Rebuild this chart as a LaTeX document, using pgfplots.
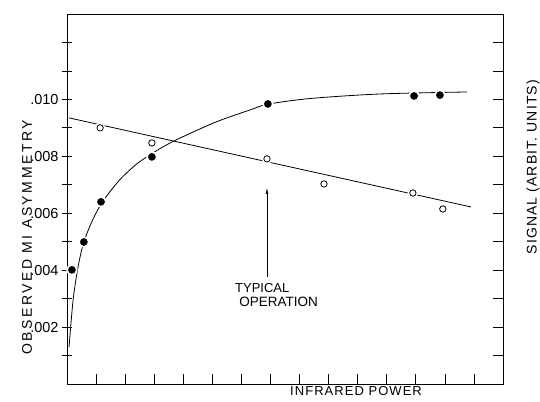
\documentclass[border=0pt]{standalone}
\usepackage{pgfplots}
\pgfplotsset{compat=1.18}
\usetikzlibrary{arrows.meta}
\usepackage{fontspec}
\setmainfont{Liberation Sans}
\newfontfamily\lspA[LetterSpace=18]{Liberation Sans}
\newfontfamily\lspB[LetterSpace=8]{Liberation Sans}
\begin{document}
\begin{tikzpicture}
\pgfplotsset{every axis/.append style={scale only axis, width=436bp, height=370bp,
  xmin=0, xmax=15, clip=false,
  axis line style={line width=0.8bp},
  every tick/.style={black, line width=0.7bp},
  major tick length=10bp, minor tick length=10bp,
  /pgf/number format/assume math mode=true}}
\begin{axis}[
  ymin=0, ymax=0.013, scaled y ticks=false,
  xtick={1,...,14}, xticklabels={}, xtick align=inside, xtick pos=bottom,
  ytick={0.002,0.004,0.006,0.008,0.010},
  yticklabels={.002,.004,.006,.008,.010},
  minor ytick={0.001,0.003,0.005,0.007,0.009,0.011,0.012},
  ytick align=center, ytick pos=left,
  yticklabel style={font=\fontsize{14.5bp}{16bp}\selectfont},
]
% fitted curve (asymmetry)
\addplot[black, line width=0.8bp, smooth] coordinates {
 (0.07,0.00130) (0.21,0.00295) (0.38,0.00411) (0.58,0.00499) (0.89,0.00578)
 (1.24,0.00643) (1.82,0.00718) (2.41,0.00774) (2.96,0.00812) (3.44,0.00841)
 (3.99,0.00869) (5.16,0.00922) (6.30,0.00963) (6.91,0.00983) (8.36,0.01003)
 (10.77,0.01019) (13.76,0.01026)};
\addplot[only marks, mark=*, mark size=5.5bp, white, mark options={draw=white, fill=white}] coordinates {
 (0.17,0.00401) (0.58,0.00499) (1.17,0.00640) (2.92,0.00798) (6.91,0.00984) (11.94,0.01012) (12.83,0.01015)};
\addplot[only marks, mark=*, mark size=3.6bp, black] coordinates {
 (0.17,0.00401) (0.58,0.00499) (1.17,0.00640) (2.92,0.00798) (6.91,0.00984) (11.94,0.01012) (12.83,0.01015)};
% annotation
\draw[line width=0.7bp, -{Latex[length=6bp,width=3bp]}] (axis cs:6.88,0.00376) -- (axis cs:6.88,0.00689);
\node[anchor=west, font=\fontsize{13bp}{15bp}\selectfont, inner sep=0pt] at (axis cs:5.78,0.003373) {TYPICAL};
\node[anchor=west, font=\fontsize{13.5bp}{15bp}\selectfont, inner sep=0pt] at (axis cs:5.92,0.00288) {OPERATION};
% labels
\node[rotate=90, font=\lspA\fontsize{14bp}{16bp}\selectfont] at (rel axis cs:-0.0917,0.396) {OBSERVED MI ASYMMETRY};
\node[rotate=90, font=\lspB\fontsize{14bp}{16bp}\selectfont] at (rel axis cs:1.069,0.586) {SIGNAL (ARBIT. UNITS)};
\node[font=\lspB\fontsize{13bp}{15bp}\selectfont] at (rel axis cs:0.663,-0.019) {INFRARED POWER};
\end{axis}
\begin{axis}[
  ymin=0, ymax=13,
  axis x line=none, axis y line*=right, y axis line style={-},
  ytick={1,...,12}, yticklabels={}, ytick align=inside,
]
\addplot[black, line width=0.8bp] coordinates {(0.07,9.35) (13.9,6.22)};
\addplot[only marks, mark=*, mark size=5bp, white, mark options={draw=white, fill=white}] coordinates {
 (1.14,9.00) (2.92,8.47) (6.88,7.91) (8.84,7.03) (11.90,6.71) (12.93,6.15)};
\addplot[only marks, mark=o, mark size=3.2bp, black, mark options={line width=0.8bp, fill=white}] coordinates {
 (1.14,9.00) (2.92,8.47) (6.88,7.91) (8.84,7.03) (11.90,6.71) (12.93,6.15)};
\end{axis}
\pgfresetboundingbox
\useasboundingbox (-67bp,-18bp) rectangle (473bp,384bp);
\end{tikzpicture}
\end{document}
